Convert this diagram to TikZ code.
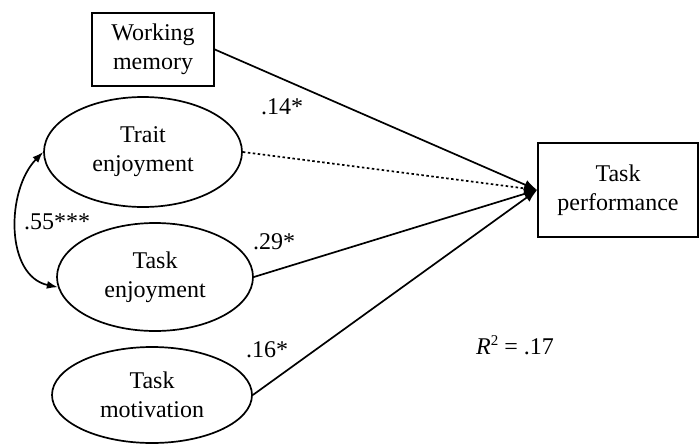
\documentclass[tikz,border=0pt]{standalone}
\usepackage{fontspec}
\setmainfont{Liberation Serif}
\usetikzlibrary{arrows.meta,shapes.geometric}
\begin{document}
\begin{tikzpicture}[x=1pt, y=-1pt,
    every node/.style={font=\fontsize{24}{29}\selectfont},
    obsbox/.style={draw, line width=1.7pt, align=center, inner sep=0pt},
    latent/.style={ellipse, draw, line width=1.7pt, align=center, inner sep=0pt},
    effect/.style={line width=1.7pt, -{Latex[length=13pt,width=10pt]}},
    corr/.style={line width=1.7pt, {Latex[length=11pt,width=8pt]}-{Latex[length=11pt,width=8pt]}}]
    \useasboundingbox (0,0) rectangle (699,445);

    % predictors and outcome
    \node[obsbox, minimum width=122pt, minimum height=73pt] (wm) at (153,49.5) {Working\\memory};
    \node[obsbox, minimum width=160pt, minimum height=94pt] (perf) at (618,190) {Task\\performance};
    \node[latent, minimum width=198pt, minimum height=110pt] (trait) at (143,152) {Trait\\enjoyment};
    \node[latent, minimum width=196pt, minimum height=108pt] (taskenj) at (155,277) {Task\\enjoyment};
    \node[latent, minimum width=200pt, minimum height=96pt] (motiv) at (152,395) {Task\\motivation};

    % paths
    \draw[effect] (wm.east) -- (perf.west);
    \draw[effect, dash pattern=on 2.5pt off 2.5pt] (trait.east) -- (perf.west);
    \draw[effect] (taskenj.east) -- (perf.west);
    \draw[effect] (motiv.east) -- (perf.west);
    \draw[corr] (trait.west) .. controls (6,190) and (5,276) .. (taskenj.186);

    % coefficients
    \node (c14) at (282,107) {.14*};
    \node (c29) at (274,242) {.29*};
    \node (c16) at (267,350) {.16*};
    \node (c55) at (57,222) {.55***};
    \node (rsq) at (515,345) {\textit{R}\raisebox{9pt}{\fontsize{15}{15}\selectfont 2} = .17};
\end{tikzpicture}
\end{document}
